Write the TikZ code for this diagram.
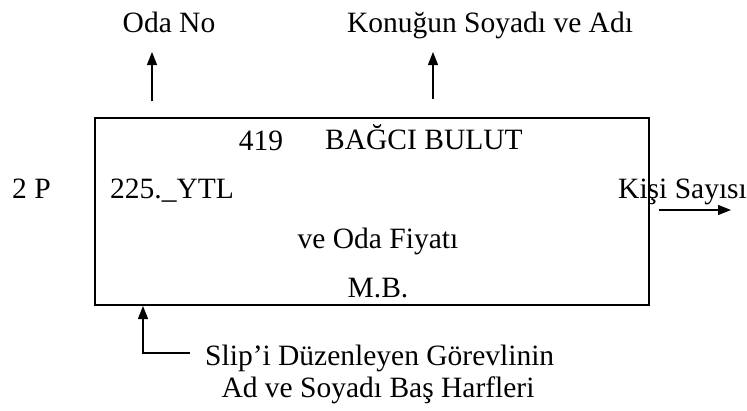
\documentclass[tikz,border=0pt]{standalone}
\usepackage{fontspec}
\setmainfont{Liberation Serif}
\usetikzlibrary{arrows.meta}
\begin{document}
\begin{tikzpicture}[x=1pt,y=-1pt,
  lbl/.style={inner sep=0pt,anchor=base,font=\fontsize{29.5}{34}\selectfont},
  lblw/.style={lbl,anchor=base west},
  arr/.style={line width=1.3pt,-{Triangle[length=13pt,width=10pt]}},
  frame/.style={draw,line width=1.6pt}]
\useasboundingbox (0,0) rectangle (747,410);
% slip frame
\draw[frame] (95,118) rectangle (649,305);
% labels above the slip
\node[lbl] (oda) at (169,32) {Oda No};
\node[lbl] (konuk) at (490,32) {Konuğun Soyadı ve Adı};
\coordinate (odafrom) at (152,101);
\coordinate (odato) at (152,52);
\coordinate (konukfrom) at (433,99);
\coordinate (konukto) at (433,52);
\draw[arr] (odafrom) -- (odato);
\draw[arr] (konukfrom) -- (konukto);
% slip contents
\node[lbl] (no) at (261,150) {419};
\node[lblw] (ad) at (325,149) {BAĞCI BULUT};
\node[lblw] (pers) at (12,198) {2 P};
\node[lblw] (fiyat) at (110,198) {225.\_YTL};
\node[lblw] (kisi) at (618,198) {Kişi Sayısı};
\node[lbl] (veoda) at (378,248) {ve Oda Fiyatı};
\node[lbl] (mb) at (378,297) {M.B.};
\coordinate (kisifrom) at (659,210);
\coordinate (kisito) at (731,210);
\draw[arr] (kisifrom) -- (kisito);
% clerk initials
\node[lblw] (slip) at (205,365) {Slip’i Düzenleyen Görevlinin};
\node[lbl] (harf) at (378,397) {Ad ve Soyadı Baş Harfleri};
\coordinate (lineend) at (190,353);
\coordinate (corner) at (143,353);
\coordinate (boxbot) at (143,306);
\draw[arr] (lineend) -- (corner) -- (boxbot);
\end{tikzpicture}
\end{document}
